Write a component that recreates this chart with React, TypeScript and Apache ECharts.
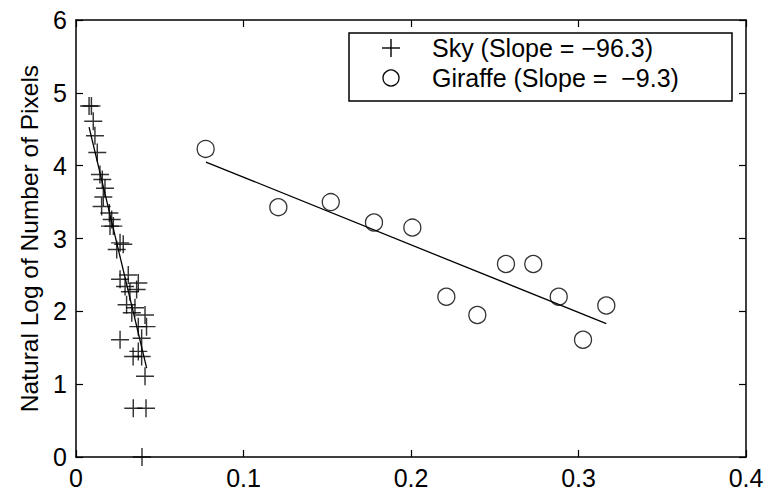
import React, { useEffect, useRef } from "react";
import * as echarts from "echarts";

const skyX = [0.0078, 0.0092, 0.0103, 0.0113, 0.0127, 0.0143, 0.0157, 0.0173, 0.0163, 0.0153, 0.0199, 0.0213, 0.0203, 0.0223, 0.0263, 0.0243, 0.0282, 0.0263, 0.0312, 0.0293, 0.0372, 0.0322, 0.0362, 0.0302, 0.0352, 0.0333, 0.0412, 0.0372, 0.0421, 0.0263, 0.0392, 0.0372, 0.0341, 0.0392, 0.0412, 0.0342, 0.0418, 0.0394];
const skyY = [4.82, 4.82, 4.61, 4.41, 4.18, 3.88, 3.81, 3.69, 3.57, 3.44, 3.35, 3.26, 3.17, 3.17, 2.94, 2.85, 2.92, 2.44, 2.5, 2.34, 2.39, 2.27, 2.3, 2.09, 2.05, 1.98, 1.95, 1.79, 1.79, 1.61, 1.63, 1.45, 1.38, 1.38, 1.11, 0.67, 0.67, 0];

const giraffeX = [0.0774, 0.1208, 0.1521, 0.1779, 0.2008, 0.2211, 0.2396, 0.2567, 0.273, 0.2882, 0.3027, 0.3166];
const giraffeY = [4.23, 3.43, 3.5, 3.22, 3.15, 2.2, 1.95, 2.65, 2.65, 2.2, 1.61, 2.08];

const skyFitX = [0.0078, 0.0422];
const skyFitY = [4.53, 1.22];
const giraffeFitX = [0.0776, 0.3166];
const giraffeFitY = [4.05, 1.83];

const xTicks = [0, 0.1, 0.2, 0.3, 0.4];
const yTicks = [0, 1, 2, 3, 4, 5, 6];
const legendLabels = ["Sky (Slope = \u221296.3)", "Giraffe (Slope =  \u22129.3)"];
const yTitle = "Natural Log of Number of Pixels";

const FONT = "'Liberation Sans', Arial, Helvetica, sans-serif";
const PLUS = "path://M0,4.6H10V5.4H0Z M4.6,0H5.4V10H4.6Z";

export default function App() {
  const ref = useRef<HTMLDivElement>(null);
  useEffect(() => {
    if (!ref.current) return;
    const chart = echarts.init(ref.current, null, { renderer: "svg" });
    const zip = (xs: number[], ys: number[]) => xs.map((x, i) => [x, ys[i]]);
    const axisCommon = {
      min: 0,
      axisLine: { show: true, onZero: false, lineStyle: { color: "#000", width: 1.5 } },
      axisTick: { show: true, inside: true, length: 7, lineStyle: { color: "#000", width: 1.2 } },
      splitLine: { show: false },
    };
    chart.setOption({
      animation: false,
      backgroundColor: "#fff",
      grid: { left: 76, right: 24, top: 20, bottom: 42, containLabel: false },
      xAxis: [
        {
          ...axisCommon,
          type: "value",
          position: "bottom",
          max: xTicks[xTicks.length - 1],
          interval: 0.1,
          axisLabel: {
            color: "#000",
            fontFamily: FONT,
            fontSize: 25,
            margin: 8,
            formatter: (v: number) => String(Math.round(v * 10) / 10),
          },
        },
        {
          ...axisCommon,
          type: "value",
          position: "top",
          max: xTicks[xTicks.length - 1],
          interval: 0.1,
          axisLabel: { show: false },
        },
      ],
      yAxis: [
        {
          ...axisCommon,
          type: "value",
          position: "left",
          max: yTicks[yTicks.length - 1],
          interval: 1,
          name: yTitle,
          nameLocation: "middle",
          nameGap: 32,
          nameTextStyle: { color: "#000", fontFamily: FONT, fontSize: 24.5 },
          axisLabel: { color: "#000", fontFamily: FONT, fontSize: 25, margin: 9 },
        },
        {
          ...axisCommon,
          type: "value",
          position: "right",
          max: yTicks[yTicks.length - 1],
          interval: 1,
          axisLabel: { show: false },
        },
      ],
      series: [
        {
          name: "Sky",
          type: "scatter",
          data: zip(skyX, skyY),
          symbol: PLUS,
          symbolSize: 18,
          itemStyle: { color: "#000" },
          z: 3,
        },
        {
          name: "Giraffe",
          type: "scatter",
          data: zip(giraffeX, giraffeY),
          symbol: "circle",
          symbolSize: 17,
          itemStyle: { color: "rgba(255,255,255,0)", borderColor: "#000", borderWidth: 1.3 },
          z: 3,
        },
        {
          name: "Sky fit",
          type: "line",
          data: zip(skyFitX, skyFitY),
          showSymbol: false,
          symbol: "none",
          lineStyle: { color: "#000", width: 1.3 },
          z: 2,
        },
        {
          name: "Giraffe fit",
          type: "line",
          data: zip(giraffeFitX, giraffeFitY),
          showSymbol: false,
          symbol: "none",
          lineStyle: { color: "#000", width: 1.3 },
          z: 2,
        },
      ],
      graphic: [
        {
          type: "group",
          z: 100,
          children: [
            {
              type: "rect",
              shape: { x: 349, y: 33, width: 383, height: 68 },
              style: { fill: "#fff", stroke: "#000", lineWidth: 1.5 },
            },
            {
              type: "line",
              shape: { x1: 382, y1: 48, x2: 400, y2: 48 },
              style: { stroke: "#000", lineWidth: 1.4 },
            },
            {
              type: "line",
              shape: { x1: 391, y1: 39, x2: 391, y2: 57 },
              style: { stroke: "#000", lineWidth: 1.4 },
            },
            {
              type: "circle",
              shape: { cx: 391, cy: 78, r: 8 },
              style: { fill: "none", stroke: "#000", lineWidth: 1.3 },
            },
            {
              type: "text",
              x: 432,
              y: 48,
              style: {
                text: legendLabels[0],
                fill: "#000",
                font: `25px ${FONT}`,
                textVerticalAlign: "middle",
                verticalAlign: "middle",
              },
            },
            {
              type: "text",
              x: 432,
              y: 78,
              style: {
                text: legendLabels[1],
                fill: "#000",
                font: `25px ${FONT}`,
                textVerticalAlign: "middle",
                verticalAlign: "middle",
              },
            },
          ],
        },
      ],
    });
    return () => chart.dispose();
  }, []);
  return <div ref={ref} style={{ width: 770, height: 499, position: "absolute", left: 0, top: 0 }} />;
}
